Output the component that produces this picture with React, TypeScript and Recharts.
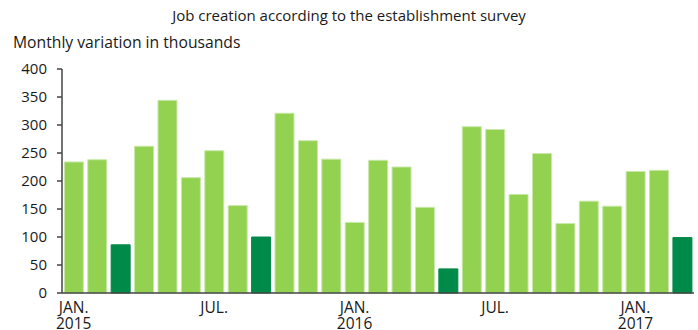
import { Bar, BarChart, Cell, XAxis, YAxis } from "recharts";

const months = [
  "2015-01", "2015-02", "2015-03", "2015-04", "2015-05", "2015-06",
  "2015-07", "2015-08", "2015-09", "2015-10", "2015-11", "2015-12",
  "2016-01", "2016-02", "2016-03", "2016-04", "2016-05", "2016-06",
  "2016-07", "2016-08", "2016-09", "2016-10", "2016-11", "2016-12",
  "2017-01", "2017-02", "2017-03",
];

const jobs = [
  234, 238, 86, 262, 344, 206, 254, 156, 100, 321, 272, 239, 126, 237, 225,
  153, 43, 297, 292, 176, 249, 124, 164, 155, 217, 219, 99,
];

const highlightMonths = ["2015-03", "2015-09", "2016-05", "2017-03"];

const tickMonths = ["2015-01", "2015-07", "2016-01", "2016-07", "2017-01"];
const tickLines = [
  ["JAN.", "2015"],
  ["JUL.", ""],
  ["JAN.", "2016"],
  ["JUL.", ""],
  ["JAN.", "2017"],
];

const yTicks = [0, 50, 100, 150, 200, 250, 300, 350, 400];

const data = months.map((month, i) => ({ month, jobs: jobs[i] }));

const FONT = "'Open Sans', sans-serif";
const TEXT = "#1a1a1a";

// x/y come in already offset below the axis line (tickSize + tickMargin)
function MonthTick(props: any) {
  const { x, y, payload } = props;
  const idx = tickMonths.indexOf(payload.value);
  if (idx < 0) return null;
  const [top, bottom] = tickLines[idx];
  return (
    <g transform={`translate(${x},${y})`}>
      <text x={0} y={12} textAnchor="middle" fontFamily={FONT} fontSize={15.5} fill={TEXT}>
        {top}
      </text>
      {bottom && (
        <text x={0} y={28} textAnchor="middle" fontFamily={FONT} fontSize={15.5} fill={TEXT}>
          {bottom}
        </text>
      )}
    </g>
  );
}

export default function App() {
  return (
    <div
      style={{
        position: "absolute",
        left: 0,
        top: 0,
        width: 698,
        height: 330,
        background: "#fff",
        fontFamily: FONT,
      }}
    >
      <div
        style={{
          position: "absolute",
          top: 5,
          width: 698,
          textAlign: "center",
          fontSize: 15,
          color: TEXT,
        }}
      >
        Job creation according to the establishment survey
      </div>
      <div
        style={{
          position: "absolute",
          top: 31,
          left: 13,
          fontSize: 15.7,
          color: TEXT,
        }}
      >
        Monthly variation in thousands
      </div>
      <BarChart
        width={698}
        height={330}
        data={data}
        margin={{ top: 69, right: 4, bottom: 0, left: 0 }}
        barCategoryGap="10%"
      >
        <XAxis
          dataKey="month"
          ticks={tickMonths}
          interval={0}
          tick={<MonthTick />}
          tickLine={false}
          axisLine={{ stroke: "#444", strokeWidth: 1.5 }}
          height={37}
        />
        <YAxis
          width={62}
          domain={[0, 400]}
          ticks={yTicks}
          interval={0}
          tickSize={5}
          tickMargin={10}
          axisLine={{ stroke: "#444", strokeWidth: 1.5 }}
          tickLine={{ stroke: "#444", strokeWidth: 1.5 }}
          tick={{ fontFamily: FONT, fontSize: 15, fill: TEXT }}
        />
        <Bar dataKey="jobs" isAnimationActive={false} stroke="#c8e8a8" strokeWidth={1}>
          {data.map((d) => (
            <Cell
              key={d.month}
              fill={highlightMonths.includes(d.month) ? "#008a4a" : "#93d151"}
              stroke={highlightMonths.includes(d.month) ? "#008a4a" : "#c8e8a8"}
            />
          ))}
        </Bar>
      </BarChart>
    </div>
  );
}
